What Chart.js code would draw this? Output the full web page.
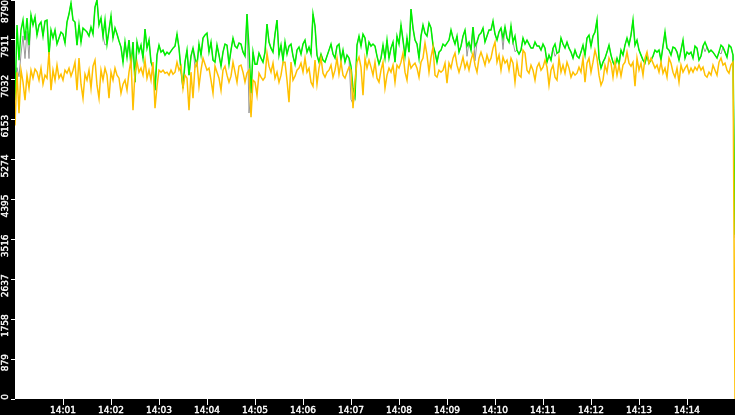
<!DOCTYPE html>
<html>
<head>
<meta charset="utf-8">
<script src="https://cdn.jsdelivr.net/npm/chart.js@4.4.0/dist/chart.umd.min.js"></script>
<style>
html,body{margin:0;padding:0;background:#000;overflow:hidden}
#wrap{width:735px;height:415px}
</style>
</head>
<body>
<div id="wrap"><canvas id="c" width="735" height="415"></canvas></div>
<script>
// ---- data (one sample every 2.5 s from 14:00:00 to 14:15:00) ----
const sampleSeconds = 2.5;
const xTickLabels = ["14:01","14:02","14:03","14:04","14:05","14:06","14:07","14:08","14:09","14:10","14:11","14:12","14:13","14:14"];
const yTickValues = [0,879,1758,2637,3516,4395,5274,6153,7032,7911,8790];

const green = [
6582,8238,7465,8128,8348,7907,8393,7796,8459,8238,8415,8017,8238,8304,7995,8326,8348,7576,8128,7951,8128,
7819,7951,8084,8039,7841,8304,8481,8724,8348,8304,7796,8238,7863,8172,8128,8084,7995,8194,8039,8635,
8790,8238,8393,7995,8348,7819,8128,8437,7951,8172,8039,7885,7752,7421,7863,7531,7907,7333,7863,6979,
7863,7642,7796,7509,8150,7730,7907,7421,7289,6803,7576,7796,7642,7686,7576,7642,7598,7664,7730,7774,
8039,7730,7244,6847,7421,7686,7134,7554,7730,7509,7355,7819,7576,7951,8017,8061,7642,7863,7465,7421,
7796,7576,7333,7642,7819,7796,7377,7686,7951,7774,7730,7841,7819,7642,7554,8481,7730,6737,7642,7377,
7377,7620,7509,7421,7642,8260,7863,7730,7642,8039,8348,7576,7796,7465,7863,7598,7774,7819,7554,7377,
7686,7752,7598,7819,7907,7642,7752,7598,8481,8216,7576,7421,7598,7465,7421,7554,7686,7819,7598,7509,
7774,7819,7465,7686,7421,7576,7509,7333,6847,6670,7796,7995,7774,8039,7951,7598,7863,7774,7819,7774,
7554,7377,7509,7796,7509,7907,7509,7730,7863,7421,7995,7819,8238,7907,7554,7951,7642,8591,8172,7907,
7819,7509,7995,8238,8061,7995,8282,8172,7796,7642,7421,7642,7686,7819,7774,7841,7907,8128,7951,7819,
7995,7642,7774,7995,8128,7774,7863,7686,8194,7774,7863,8017,8061,8172,7863,7995,8128,8128,8326,8039,
7907,8084,8172,7951,8194,7951,7863,8216,7863,7995,7686,7598,7686,7951,7819,7907,7819,7730,7730,7863,
7774,7774,7686,7819,7730,7421,7576,7465,7730,7819,7620,7642,7951,7819,7730,7863,7730,7642,7509,7686,
7554,7509,7642,7796,7576,7951,8017,7774,7995,8084,8348,7509,7289,7421,7509,7642,7796,7576,7421,7333,
7509,7377,7686,7576,7796,7951,7796,8017,8348,7796,7907,7686,7576,7465,7399,7576,7399,7465,7554,7686,
7642,7686,7465,7774,8084,7730,7686,7576,7752,7730,7642,7465,7686,7907,7509,7642,7598,7642,7509,7774,
7730,7465,7554,7774,7863,7752,7642,7686,7642,7576,7509,7642,7796,7752,7642,7531,7796,7752,7576,3620
];

const gray = [
6700,7300,7100,7600,8000,7500,8100,7500,8459,8238,8415,8017,8238,8304,7995,8326,8348,7576,8128,7951,8128,
7819,7951,8084,8039,7841,8304,8481,8724,8348,8304,7796,8238,7863,8172,8128,8084,7995,8194,8039,8635,
8790,8238,8393,7995,7800,7819,8128,8437,7951,8172,8039,7885,7752,7421,7863,7531,7907,7333,7863,6979,
7863,7642,7796,7509,8150,7730,7907,7421,7289,6803,7576,7796,7642,7686,7576,7642,7598,7664,7730,7774,
8039,7730,7244,6847,7421,7686,7134,7554,7730,7300,7355,7819,7576,7951,8017,8061,7642,7863,7465,7421,
7796,7576,7333,7642,7819,7796,7377,7686,7951,7774,7730,7841,7819,7642,7554,8481,6300,6737,7642,7377,
7377,7620,7509,7421,7642,8260,7863,7730,7642,8039,8348,7576,7796,7465,7863,7598,7774,7819,7554,7377,
7686,7752,7598,7819,7907,7642,7752,7598,8481,8216,7576,7421,7598,7465,7421,7554,7686,7819,7598,7509,
7774,7819,7465,7686,7421,7576,7509,6600,6500,6670,7796,7995,7774,8039,7951,7598,7863,7774,7819,7774,
7554,7377,7509,7796,7509,7907,7509,7730,7863,7421,7995,7819,8238,7907,7554,7951,7642,8591,8172,7907,
7819,7509,7995,8238,8061,7995,8282,8172,7796,7642,7421,7642,7686,7819,7774,7841,7907,8128,7951,7819,
7995,7642,7774,7995,8128,7550,7863,7686,8194,7450,7863,8017,8061,8172,7863,7995,8128,8128,8326,8039,
7907,8084,8172,7700,8194,7951,7863,8216,7863,7650,7686,7598,7686,7951,7819,7907,7819,7730,7730,7863,
7774,7774,7686,7819,7730,7421,7576,7465,7730,7550,7620,7642,7951,7819,7730,7863,7730,7642,7509,7686,
7554,7509,7642,7796,7576,7951,8017,7774,7995,8084,8348,7509,7289,7421,7509,7642,7796,7576,7421,7333,
7509,7377,7686,7576,7796,7951,7796,8017,8348,7796,7907,7686,7576,7465,7399,7576,7399,7465,7554,7686,
7642,7686,7465,7774,8084,7730,7686,7576,7752,7730,7642,7465,7686,7907,7509,7642,7598,7642,7509,7774,
7730,7465,7554,7774,7650,7752,7642,7686,7642,7576,7509,7642,7600,7752,7642,7531,7796,7752,7576,3550
];

const orange = [
6026,7200,6295,7244,6979,6582,7134,6847,7244,7068,7266,7200,7024,7289,6935,7134,7068,7642,6803,7244,7024,
7355,7068,7156,7024,7244,7178,7289,7112,7244,7421,6803,7509,6935,6626,7156,7024,7244,6847,7333,7465,
6913,6626,7244,7024,7289,7134,6626,7200,7024,7289,7134,7068,6737,6935,7024,6803,7200,7465,6361,7200,
7421,7200,7289,7134,7465,7068,7244,7024,7421,6405,6891,7244,7200,7244,7178,7200,7134,7244,7156,7200,
7421,7244,7333,6847,7134,7068,6361,7200,6626,7333,7421,6891,7244,7509,7377,7244,7289,7024,6737,7333,
7200,7068,6803,7244,7333,7134,6979,7112,7421,7200,6979,7333,7355,7200,6979,7178,7244,6207,7024,6979,
6692,7178,7090,7024,7090,7620,7333,7200,7399,7068,7200,6979,7134,7421,7421,7024,6538,7421,7024,7112,
7244,7289,7399,7200,7509,7200,7289,6979,6891,7465,6935,7289,7509,7178,7090,7200,7244,7355,7090,7244,
7509,7156,7421,7134,7068,7200,7311,7244,6405,7024,7421,7531,7311,6692,7509,7289,7465,7311,7134,7421,
7068,6979,7244,7421,6847,7134,7289,7200,7355,6979,7355,7289,7421,7620,7200,7024,7465,7289,7355,7399,
7289,7090,7421,7509,7841,7576,7200,7531,7752,7134,7090,7244,7200,7244,7399,6957,7399,7289,7509,7620,
7355,7200,7355,7531,7289,7421,7244,7465,7620,7355,7200,7509,7642,7509,7355,7576,7421,7509,7730,7863,
7421,7576,7244,7531,7399,7465,7244,7509,7399,6979,7399,7134,7090,7686,7620,7244,7178,7355,7244,7024,
7311,7399,7244,7311,7465,7311,6913,7244,7355,7090,7024,7509,7200,7355,7178,7421,7289,7090,7200,7134,
7178,7311,7200,7509,6979,7399,7509,7200,7421,7686,7509,7134,6913,7024,7355,7200,7509,7399,7090,7421,
7134,7355,7112,7355,7421,7642,7399,7333,7421,6891,7509,7244,7399,7134,7509,7642,7399,7509,7399,7289,
7355,7200,7421,7178,7289,7090,7509,7399,7200,7090,7289,6979,7355,7200,7289,7355,7178,7289,7200,7311,
7244,7355,7244,7311,7134,7090,7200,7134,7355,7244,7134,7421,7509,7355,7399,7244,7178,7355,7421,0
];

// ---- chart ----
const times = green.map((_, i) => i * sampleSeconds);
const toPoints = arr => arr.map((v, i) => ({ x: times[i], y: v }));
const tickSeconds = xTickLabels.map(l => {
  const p = l.split(':');
  return (parseInt(p[0], 10) - 14) * 3600 + parseInt(p[1], 10) * 60;
});
const FONT = 'DejaVu Sans';

const bgPlugin = {
  id: 'bg',
  beforeDraw(chart) {
    const { ctx, chartArea: a } = chart;
    ctx.save();
    ctx.fillStyle = '#000';
    ctx.fillRect(0, 0, chart.width, chart.height);
    ctx.fillStyle = '#fff';
    ctx.fillRect(a.left, a.top, a.right - a.left, a.bottom - a.top);
    ctx.restore();
  }
};

const yLabelPlugin = {
  id: 'ylabels',
  afterDraw(chart) {
    const ctx = chart.ctx, s = chart.scales.y;
    ctx.save();
    ctx.fillStyle = '#fff';
    ctx.strokeStyle = '#fff';
    ctx.lineWidth = 0.4;
    ctx.font = '9px "' + FONT + '"';
    ctx.textAlign = 'right';
    ctx.textBaseline = 'middle';
    yTickValues.forEach(v => {
      const py = s.getPixelForValue(v);
      const ay = Math.max(py - 5, 0);
      ctx.save();
      ctx.translate(6, ay);
      ctx.rotate(-Math.PI / 2);
      ctx.fillText(String(v), 0, 0);
      ctx.strokeText(String(v), 0, 0);
      ctx.restore();
    });
    ctx.restore();
  }
};

const lineDs = (data, color, w) => ({
  data: toPoints(data),
  borderColor: color,
  borderWidth: w,
  pointRadius: 0,
  pointHoverRadius: 0,
  tension: 0,
  fill: false
});

new Chart(document.getElementById('c'), {
  type: 'line',
  data: {
    datasets: [
      lineDs(orange, '#ffc000', 1.5),
      lineDs(green, '#00f000', 1.5),
      lineDs(gray, '#999999', 1)
    ]
  },
  options: {
    responsive: false,
    animation: false,
    layout: { padding: 0 },
    plugins: { legend: { display: false }, tooltip: { enabled: false } },
    scales: {
      x: {
        type: 'linear',
        min: 0,
        max: 900,
        afterBuildTicks: s => { s.ticks = tickSeconds.map(v => ({ value: v })); },
        afterFit: s => { s.height = 16; },
        ticks: {
          autoSkip: false,
          maxRotation: 0,
          minRotation: 0,
          padding: 0,
          color: '#fff',
          textStrokeColor: '#fff',
          textStrokeWidth: 0.4,
          font: { family: FONT, size: 9 },
          callback: (v) => { const k = tickSeconds.indexOf(v); return k >= 0 ? xTickLabels[k] : ''; }
        },
        grid: { drawOnChartArea: false, drawTicks: true, tickLength: 6, color: '#fff', lineWidth: 1 },
        border: { display: false }
      },
      y: {
        type: 'linear',
        min: 0,
        max: 8790,
        afterBuildTicks: s => { s.ticks = yTickValues.map(v => ({ value: v })); },
        afterFit: s => { s.width = 15; },
        ticks: { display: false },
        grid: { drawOnChartArea: false, drawTicks: true, tickLength: 4, color: '#fff', lineWidth: 1 },
        border: { display: false }
      }
    }
  },
  plugins: [bgPlugin, yLabelPlugin]
});
</script>
</body>
</html>
